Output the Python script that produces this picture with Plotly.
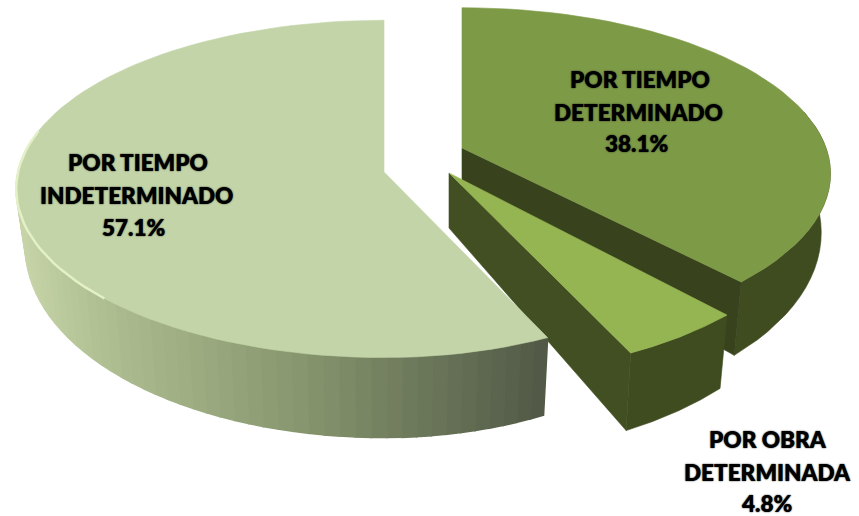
import math
import plotly.graph_objects as go

# ---- data ----
categories = ["POR TIEMPO DETERMINADO", "POR OBRA DETERMINADA", "POR TIEMPO INDETERMINADO"]
values = [38.1, 4.8, 57.1]
label_lines = [["POR TIEMPO", "DETERMINADO"], ["POR OBRA", "DETERMINADA"], ["POR TIEMPO", "INDETERMINADO"]]

# ---- styling / geometry of the projected pie (pixel-equal axes) ----
W, H = 859, 516
APEX = [(462, 148), (449, 173), (384, 172)]
SHAPE = [  # a_right, a_left, b, k
    (364, 364, 162, 0.155),
    (363, 363, 172, 0.153),
    (345, 366, 167, 0.100),
]
TOP = ["#7D9A47", "#95B553", "#C3D5A8"]
SIDE = ["#3F4C20", "#3F4C20", None]
FACE = "#38431D"
LABEL_POS = [
    [(640, 79), (638, 112), (637, 143)],
    [(768, 439), (767, 472), (766, 503)],
    [(138, 162), (136, 195), (134, 227)],
]
FONT = dict(family="Lato, Open Sans, sans-serif", size=22.5, color="#000000", weight=800,
            shadow="0 0 1.5px #111")


def proj(i, theta):
    ax, ay = APEX[i]
    ar, al, b, k = SHAPE[i]
    sx, sy = math.sin(theta), -math.cos(theta)
    a = ar if sx >= 0 else al
    d = 1 - k * sy
    return ax + a * sx / d, ay + b * sy / d, sy


def low(i, theta):
    x, y, sy = proj(i, theta)
    ax = APEX[i][0]
    return ax + (x - ax) * 0.975, y + 55 + 25 * sy


def big_side_colour(x):
    stops = [(20, (198, 212, 168)), (100, (176, 191, 146)), (300, (135, 150, 110)),
             (450, (102, 113, 86)), (550, (80, 88, 70))]
    for (x0, c0), (x1, c1) in zip(stops, stops[1:]):
        if x <= x1:
            t = max(0, (x - x0) / (x1 - x0))
            return "rgb(%d,%d,%d)" % tuple(c0[j] + t * (c1[j] - c0[j]) for j in range(3))
    return "rgb(80,88,70)"


def poly(fig, xs, ys, colour, lw=0.6):
    fig.add_trace(go.Scatter(x=xs, y=ys, mode="lines", fill="toself", fillcolor=colour,
                             line=dict(color=colour, width=lw), hoverinfo="skip", showlegend=False))


fig = go.Figure()
total = sum(values)
bounds = [0]
for v in values:
    bounds.append(bounds[-1] + v / total * 2 * math.pi)

for i in range(3):
    t0, t1 = bounds[i], bounds[i + 1]
    n = 90 if i == 2 else 50
    th = [t0 + (t1 - t0) * j / n for j in range(n + 1)]
    ax, ay = APEX[i]

    # wall facing the viewer
    if i == 2:
        for j in range(n):
            x0, y0, _ = proj(i, th[j])
            x1, y1, _ = proj(i, th[j + 1])
            lx0, ly0 = low(i, th[j])
            lx1, ly1 = low(i, th[j + 1])
            if y0 > 150 or y1 > 150:
                poly(fig, [x0, x1, lx1, lx0, x0], [y0, y1, ly1, ly0, y0], big_side_colour((x0 + x1) / 2), 1.6)
    else:
        vis = [t for t in th if math.cos(t) < 0.25]
        up = [proj(i, t)[:2] for t in vis]
        lo = [low(i, t) for t in vis]
        poly(fig, [p[0] for p in up] + [p[0] for p in lo[::-1]] + [up[0][0]],
             [p[1] for p in up] + [p[1] for p in lo[::-1]] + [up[0][1]], SIDE[i])

    # inner cut face
    if i == 0:
        ex, ey, _ = proj(i, t1)
        lx, ly = low(i, t1)
        poly(fig, [ax, ex, lx, ax, ax], [ay, ey, ly, ay + 55, ay], FACE)
    if i == 1:
        ex, ey, _ = proj(i, t1)
        lx, ly = low(i, t1)
        poly(fig, [ax, ex, lx, ax, ax], [ay, ey, ly, ay + 55, ay], "#424F22")

    # top surface
    arc = [proj(i, t)[:2] for t in th]
    poly(fig, [ax] + [p[0] for p in arc] + [ax], [ay] + [p[1] for p in arc] + [ay], TOP[i])

    # pale rim on the large slice
    if i == 2:
        rim = [proj(i, t)[:2] for t in th if math.radians(225) < t < math.radians(285)]
        fig.add_trace(go.Scatter(x=[p[0] for p in rim], y=[p[1] for p in rim], mode="lines",
                                 line=dict(color="#E4F0C8", width=2.5), hoverinfo="skip", showlegend=False))

    lines = label_lines[i] + [f"{values[i]}%"]
    for text, (x, y) in zip(lines, LABEL_POS[i]):
        fig.add_annotation(x=x, y=y, text=text, showarrow=False, font=FONT, xanchor="center", yanchor="middle")

fig.update_layout(
    width=W, height=H, margin=dict(l=0, r=0, t=0, b=0), showlegend=False,
    paper_bgcolor="#FFFFFF", plot_bgcolor="#FFFFFF",
    xaxis=dict(range=[0, W], visible=False, fixedrange=True),
    yaxis=dict(range=[H, 0], visible=False, fixedrange=True),
)
fig.write_html("out.html", config={"displayModeBar": False},
               post_script="document.body.style.margin='0';document.body.style.overflow='hidden';")
